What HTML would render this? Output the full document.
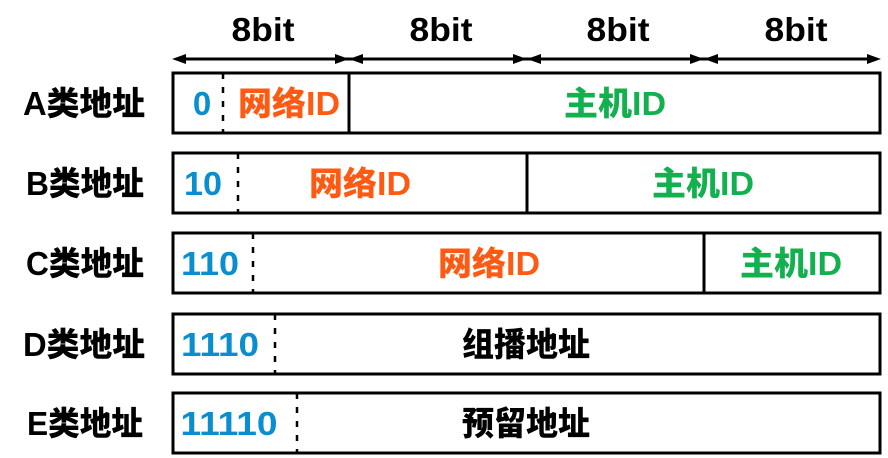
<!DOCTYPE html>
<html><head><meta charset="utf-8"><style>
html,body{margin:0;padding:0;background:#fff;}
svg{display:block}
text{font-family:"Liberation Sans","Noto Sans CJK SC",sans-serif;font-weight:900;font-size:33px;text-anchor:middle}
.b{fill:#0a8ed0}.o{fill:#ff5a14}.g{fill:#12b04e}.k{fill:#000}
</style></head><body>
<svg width="888" height="458" viewBox="0 0 888 458">
<g class="k">
<text x="263" y="41" textLength="63" lengthAdjust="spacingAndGlyphs">8bit</text><text x="441" y="41" textLength="63" lengthAdjust="spacingAndGlyphs">8bit</text><text x="618" y="41" textLength="63" lengthAdjust="spacingAndGlyphs">8bit</text><text x="796" y="41" textLength="63" lengthAdjust="spacingAndGlyphs">8bit</text>
</g>
<g stroke="#000" stroke-width="3"><line x1="176" y1="59" x2="876" y2="59"/></g>
<g fill="#000">
<polygon points="172,59 186,54 186,64"/>
<polygon points="349,59 335,54 335,64"/><polygon points="349,59 363,54 363,64"/>
<polygon points="527,59 513,54 513,64"/><polygon points="527,59 541,54 541,64"/>
<polygon points="704,59 690,54 690,64"/><polygon points="704,59 718,54 718,64"/>
<polygon points="881,59 867,54 867,64"/>
</g>
<g fill="none" stroke="#000" stroke-width="3">
<rect x="173" y="73" width="707" height="60"/>
<rect x="173" y="153" width="707" height="60"/>
<rect x="173" y="233" width="707" height="60"/>
<rect x="173" y="314" width="707" height="60"/>
<rect x="173" y="393" width="707" height="60"/>
<line x1="349" y1="73" x2="349" y2="133"/>
<line x1="527" y1="153" x2="527" y2="213"/>
<line x1="704" y1="233" x2="704" y2="293"/>
</g>
<g stroke="#000" stroke-width="2.5" stroke-dasharray="6,8">
<line x1="223" y1="73" x2="223" y2="133"/>
<line x1="238" y1="153" x2="238" y2="213"/>
<line x1="253" y1="233" x2="253" y2="293"/>
<line x1="275" y1="314" x2="275" y2="374"/>
<line x1="297" y1="393" x2="297" y2="453"/>
</g>
<g class="k">
<text x="84" y="115" textLength="122" lengthAdjust="spacingAndGlyphs">A类地址</text>
<text x="85" y="195" textLength="118" lengthAdjust="spacingAndGlyphs">B类地址</text>
<text x="85" y="275" textLength="118" lengthAdjust="spacingAndGlyphs">C类地址</text>
<text x="84" y="356" textLength="122" lengthAdjust="spacingAndGlyphs">D类地址</text>
<text x="85" y="435" textLength="116" lengthAdjust="spacingAndGlyphs">E类地址</text>
</g>
<text class="b" x="202" y="115">0</text>
<text class="o" x="289" y="115" textLength="102" lengthAdjust="spacingAndGlyphs">网络ID</text>
<text class="g" x="615" y="115" textLength="102" lengthAdjust="spacingAndGlyphs">主机ID</text>
<text class="b" x="203" y="195" textLength="38" lengthAdjust="spacingAndGlyphs">10</text>
<text class="o" x="360" y="195" textLength="102" lengthAdjust="spacingAndGlyphs">网络ID</text>
<text class="g" x="703" y="195" textLength="102" lengthAdjust="spacingAndGlyphs">主机ID</text>
<text class="b" x="210" y="275" textLength="58" lengthAdjust="spacingAndGlyphs">110</text>
<text class="o" x="489" y="275" textLength="102" lengthAdjust="spacingAndGlyphs">网络ID</text>
<text class="g" x="791" y="275" textLength="102" lengthAdjust="spacingAndGlyphs">主机ID</text>
<text class="b" x="220" y="356" textLength="78" lengthAdjust="spacingAndGlyphs">1110</text>
<text class="k" x="526" y="356" textLength="128" lengthAdjust="spacingAndGlyphs">组播地址</text>
<text class="b" x="229" y="435" textLength="97" lengthAdjust="spacingAndGlyphs">11110</text>
<text class="k" x="526" y="435" textLength="128" lengthAdjust="spacingAndGlyphs">预留地址</text>
</svg>
</body></html>
